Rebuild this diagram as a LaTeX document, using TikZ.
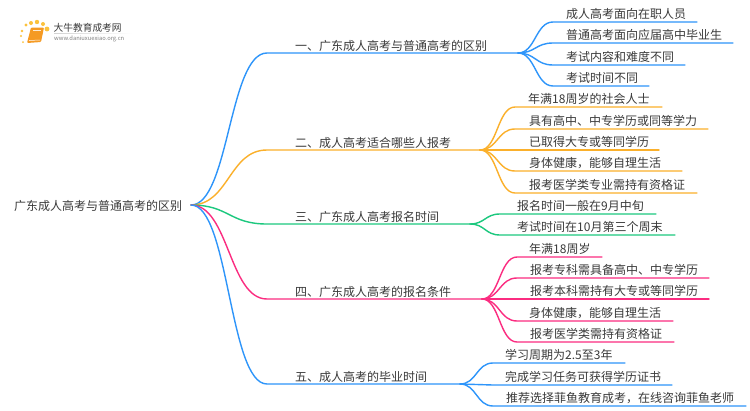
\documentclass[tikz,border=0pt]{standalone}
\usepackage{fontspec}
\setmainfont{Noto Sans CJK SC}
\usetikzlibrary{calc}
\definecolor{cblue}{HTML}{2E95FA}
\definecolor{corange}{HTML}{FBB02B}
\definecolor{cgreen}{HTML}{1CC87E}
\definecolor{cpink}{HTML}{FB2C80}
\definecolor{ctext}{HTML}{3A3A3A}
\definecolor{cdot}{HTML}{FBC23C}
\definecolor{cbook}{HTML}{F59A23}
\tikzset{
  label text/.style={font=\fontsize{12}{12}\selectfont, text=ctext, inner sep=0pt, anchor=west},
  conn/.style={line width=1.4pt, line cap=round},
  spot/.style={circle, fill=cdot, inner sep=0pt, minimum size=#1},
}
% \branch{name}{colour}{text x}{line y}{end x}{text}{parent}
\newcommand{\branch}[7]{%
  \coordinate (#1s) at (267,#4);
  \coordinate (#1e) at (#5,#4);
  \node[label text] (#1) at (#3,#4-7) {#6};
  \draw[conn,#2] (#7) .. controls ($(#7)!0.5!(#1s |- #7)$) and ($(#1s)!0.5!(#7 |- #1s)$) .. (#1s) -- (#1e);
}
% \leaf{name}{colour}{parent}{curve end x}{text x}{line y}{end x}{text}
\newcommand{\leaf}[8]{%
  \coordinate (#1s) at (#4,#6);
  \coordinate (#1e) at (#7,#6);
  \node[label text] (#1) at (#5,#6-8) {#8};
  \draw[conn,#2] (#3e) .. controls ($(#3e)!0.5!(#1s |- #3e)$) and ($(#1s)!0.5!(#3e |- #1s)$) .. (#1s) -- (#1e);
}
\begin{document}
\begin{tikzpicture}[x=1pt,y=-1pt]
\useasboundingbox (0,0) rectangle (750,410);
\fill[white] (0,0) rectangle (750,410);

% logo
\foreach \a/\b/\s in {23/42/2pt,21/36/2.4pt,22/31/2.8pt,26/25/3.4pt,31/23/4pt,37/22/4.4pt,43/24/4pt,47/29/4.8pt}
  \node[spot=\s] at (\a,\b) {};
\fill[rounded corners=1pt, cbook] (31,27.5) -- (44,27.5) -- (41,42) -- (27,43) -- cycle;
\draw[white, line width=.5pt] (29,40.5) -- (40,40);
\draw[white!80!cbook, line width=.4pt] (33,30) -- (41,30);
\node[inner sep=0pt, anchor=west, text=ctext, font=\fontsize{9.7}{10}\selectfont] (logotext) at (53.5,27.5) {大牛教育成考网};
\shade[left color=gray!35, right color=white] (54,33) rectangle (132,33.6);
\node[inner sep=0pt, anchor=west, text=gray, font=\fontsize{5.8}{6}\selectfont] (logourl) at (54,38.7) {www.daniuxuexiao.org.cn};

% root
\node[label text] (root) at (14,206) {广东成人高考与普通高考的区别};
\coordinate (rootend) at (191,205);

% main branches
\branch{a}{cblue}{295}{53}{518}{一、广东成人高考与普通高考的区别}{rootend}
\branch{b}{corange}{295}{150}{480}{二、成人高考适合哪些人报考}{rootend}
\branch{c}{cgreen}{295}{224}{470}{三、广东成人高考报名时间}{rootend}
\branch{d}{cpink}{295}{299}{482}{四、广东成人高考的报名条件}{rootend}
\branch{e}{cblue}{295}{384}{460}{五、成人高考的毕业时间}{rootend}

% leaves
\leaf{a1}{cblue}{a}{553}{566}{22}{697}{成人高考面向在职人员}
\leaf{a2}{cblue}{a}{553}{566}{43}{733}{普通高考面向应届高中毕业生}
\leaf{a3}{cblue}{a}{553}{566}{65}{685}{考试内容和难度不同}
\leaf{a4}{cblue}{a}{553}{566}{86}{649}{考试时间不同}

\leaf{b1}{corange}{b}{515}{528}{107}{662}{年满18周岁的社会人士}
\leaf{b2}{corange}{b}{515}{529}{129}{708}{具有高中、中专学历或同等学力}
\leaf{b3}{corange}{b}{515}{529}{150}{659}{已取得大专或等同学历}
\leaf{b4}{corange}{b}{515}{529}{171}{682}{身体健康，能够自理生活}
\leaf{b5}{corange}{b}{515}{529}{193}{697}{报考医学类专业需持有资格证}

\leaf{c1}{cgreen}{c}{500}{517}{214}{656}{报名时间一般在9月中旬}
\leaf{c2}{cgreen}{c}{500}{517}{235}{675}{考试时间在10月第三个周末}

\leaf{d1}{cpink}{d}{517}{529}{257}{602}{年满18周岁}
\leaf{d2}{cpink}{d}{517}{530}{278}{709}{报考专科需具备高中、中专学历}
\leaf{d3}{cpink}{d}{517}{530}{299}{709}{报考本科需持有大专或等同学历}
\leaf{d4}{cpink}{d}{517}{529}{321}{673}{身体健康，能够自理生活}
\leaf{d5}{cpink}{d}{517}{530}{342}{674}{报考医学类需持有资格证}

\leaf{e1}{cblue}{e}{493}{505}{363}{625}{学习周期为2.5至3年}
\leaf{e2}{cblue}{e}{493}{505}{385}{672}{完成学习任务可获得学历证书}
\leaf{e3}{cblue}{e}{493}{506}{406}{746}{推荐选择菲鱼教育成考，在线咨询菲鱼老师}
\end{tikzpicture}
\end{document}
